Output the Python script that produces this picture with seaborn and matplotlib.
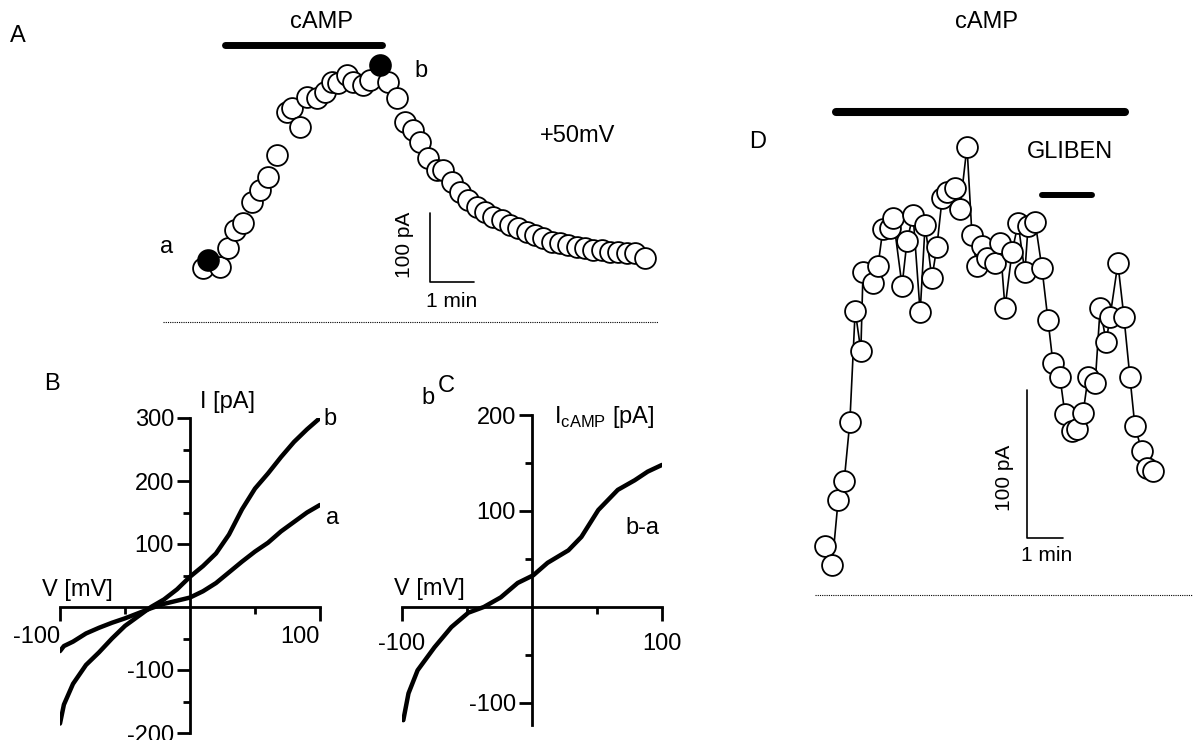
import matplotlib
matplotlib.use('Agg')
import pandas as pd
import matplotlib.pyplot as plt
import seaborn as sns

sns.set_style('ticks', {'axes.edgecolor': 'black', 'xtick.color': 'black',
                        'ytick.color': 'black', 'text.color': 'black'})
plt.rcParams['font.family'] = ['Liberation Sans', 'DejaVu Sans']
plt.rcParams['mathtext.fontset'] = 'custom'
plt.rcParams['mathtext.rm'] = 'Liberation Sans'
plt.rcParams['axes.unicode_minus'] = False

W, H = 1193, 740

# ---- A: current at +50mV over time (min, pA) ----
a_time = [0.00, 0.11, 0.39, 0.57, 0.73, 0.91, 1.11, 1.30, 1.48, 1.68, 1.91, 2.02,
          2.20, 2.36, 2.59, 2.77, 2.93, 3.07, 3.27, 3.41, 3.64, 3.80, 4.02, 4.20,
          4.41, 4.59, 4.77, 4.93, 5.11, 5.32, 5.45, 5.66, 5.84, 6.02, 6.23, 6.41,
          6.59, 6.80, 6.98, 7.16, 7.36, 7.55, 7.73, 7.93, 8.11, 8.30, 8.50, 8.68,
          8.86, 9.07, 9.25, 9.43, 9.64, 9.82, 10.05]
a_current = [78, 90, 80, 107, 133, 143, 174, 191, 210, 242, 304, 310,
             283, 326, 325, 333, 348, 346, 358, 348, 343, 351, 372, 348,
             325, 290, 278, 261, 238, 220, 220, 203, 188, 177, 167, 159,
             152, 148, 141, 136, 130, 126, 122, 116, 114, 112, 109, 107,
             104, 104, 101, 101, 100, 100, 93]
a_filled = [1, 22]   # sweeps 'a' and 'b'

# ---- B: I-V curves before (a) and during cAMP (b) ----
iv_v = [-100, -97, -90, -80, -70, -60, -50, -40, -30, -20, -10, 0,
        10, 20, 30, 40, 50, 60, 70, 80, 90, 100]
iv_a = [-70, -62, -55, -42, -33, -25, -18, -10, -2, 5, 10, 15,
        25, 38, 55, 72, 88, 102, 120, 135, 150, 162]
iv_b = [-185, -155, -122, -92, -72, -50, -30, -15, 0, 12, 28, 48,
        65, 85, 115, 155, 188, 212, 238, 262, 282, 300]

# ---- C: cAMP-induced current (b-a) ----
diff_v = [-99, -95, -88, -75, -62, -49, -37, -24, -11, 1, 12, 28, 38, 51, 66, 79, 89, 100]
diff_i = [-118, -90, -66, -42, -21, -6, 0, 10, 25, 33, 46, 59, 73, 101, 122, 132, 141, 148]

# ---- D: current over time with glibenclamide ----
d_time = [0.00, 0.20, 0.37, 0.54, 0.70, 0.85, 1.01, 1.07, 1.35, 1.49, 1.63, 1.83,
          1.92, 2.17, 2.31, 2.48, 2.68, 2.82, 3.01, 3.15, 3.30, 3.44, 3.66, 3.80,
          4.00, 4.14, 4.28, 4.42, 4.56, 4.79, 4.93, 5.07, 5.27, 5.44, 5.63, 5.72,
          5.92, 6.11, 6.28, 6.42, 6.62, 6.76, 6.96, 7.10, 7.27, 7.41, 7.61, 7.75,
          7.92, 8.03, 8.25, 8.42, 8.59, 8.73, 8.93, 9.07, 9.24]
d_current = [33, 20, 64, 77, 117, 192, 165, 218, 211, 222, 247, 248,
             255, 209, 239, 257, 191, 250, 214, 235, 268, 272, 275, 261,
             303, 243, 222, 236, 228, 224, 238, 194, 232, 251, 218, 249,
             252, 221, 186, 157, 147, 122, 111, 112, 123, 147, 143, 194,
             171, 188, 224, 188, 147, 114, 97, 86, 84]

FS = 17     # main labels
FS_SB = 15  # scale bar labels
MS = 225    # marker area (pt^2)


def px_axes(x0, y0, x1, y1):
    return fig.add_axes([x0 / W, 1 - y1 / H, (x1 - x0) / W, (y1 - y0) / H])


def ftext(px, py, s):
    fig.text(px / W, 1 - py / H, s, fontsize=FS, ha='center', va='center')


def iv_axes(ax, yticks, yminor, xpad, xha):
    ax.spines['left'].set_position(('data', 0))
    ax.spines['bottom'].set_position(('data', 0))
    ax.spines['top'].set_visible(False)
    ax.spines['right'].set_visible(False)
    ax.spines['left'].set_linewidth(2)
    ax.spines['bottom'].set_linewidth(2)
    ax.set_xticks([-100, 100])
    ax.set_xticks([-50, 50], minor=True)
    ax.set_yticks(yticks)
    ax.set_yticks(yminor, minor=True)
    ax.tick_params(axis='y', which='major', length=9.5, width=2, labelsize=FS, pad=2)
    ax.tick_params(axis='y', which='minor', length=5, width=2)
    ax.tick_params(axis='x', which='major', length=10, width=2, labelsize=FS, pad=xpad)
    ax.tick_params(axis='x', which='minor', length=5, width=2)
    for lab in ax.get_xticklabels():
        lab.set_ha(xha)
    ax.set_xlabel('')
    ax.set_ylabel('')
    ax.patch.set_alpha(0)


fig = plt.figure(figsize=(W / 100, H / 100), dpi=100)

# ---- Panel A ----
axA = px_axes(150, 0, 670, 330)
df_a = pd.DataFrame({'t': a_time, 'I': a_current})
sns.scatterplot(data=df_a.drop(index=a_filled), x='t', y='I', s=MS, color='white',
                edgecolor='black', linewidth=1.3, ax=axA, zorder=2, clip_on=False)
sns.scatterplot(data=df_a.iloc[a_filled], x='t', y='I', s=MS, color='black',
                edgecolor='black', linewidth=1.3, ax=axA, zorder=3, clip_on=False)
axA.plot([0.5, 4.07], [401, 401], color='black', lw=5, solid_capstyle='round')
axA.plot([5.16, 5.16, 6.16], [158, 58, 58], color='black', lw=1.2)
axA.plot([-0.91, 10.34], [0, 0], color='black', lw=0.8, ls=(0, (1, 1)))
axA.text(2.70, 435, 'cAMP', fontsize=FS, ha='center', va='center')
axA.text(-0.82, 109, 'a', fontsize=FS, ha='center', va='center')
axA.text(4.95, 364, 'b', fontsize=FS, ha='center', va='center')
axA.text(8.52, 270, '+50mV', fontsize=FS, ha='center', va='center')
axA.text(4.57, 112, '100 pA', fontsize=FS_SB, ha='center', va='center', rotation=90)
axA.text(5.64, 30, '1 min', fontsize=FS_SB, ha='center', va='center')
axA.set_xlim(-1.205, 10.614)
axA.set_ylim(-11.6, 466.7)
axA.axis('off')

# ---- Panel B ----
axB = px_axes(60, 418, 320, 733)
sns.lineplot(x=iv_v, y=iv_a, ax=axB, color='black', lw=3.2, estimator=None, sort=False)
sns.lineplot(x=iv_v, y=iv_b, ax=axB, color='black', lw=3.2, estimator=None, sort=False)
axB.set_xlim(-100, 100)
axB.set_ylim(-200, 300)
iv_axes(axB, [-200, -100, 100, 200, 300], [-150, -50, 50, 150, 250], 4, 'right')
axB.text(7.7, 325, 'I [pA]', fontsize=FS, ha='left', va='center')
axB.text(-113.8, 27, 'V [mV]', fontsize=FS, ha='left', va='center')
axB.text(108, 298, 'b', fontsize=FS, ha='center', va='center')
axB.text(110, 141, 'a', fontsize=FS, ha='center', va='center')

# ---- Panel C ----
axC = px_axes(402, 415, 662, 725)
sns.lineplot(x=diff_v, y=diff_i, ax=axC, color='black', lw=3.2, estimator=None, sort=False)
axC.set_xlim(-100, 100)
axC.set_ylim(-123, 200)
iv_axes(axC, [-100, 100, 200], [-50, 50, 150], 9, 'center')
axC.text(17, 198, r'I$_{\mathrm{cAMP}}$ [pA]', fontsize=FS, ha='left', va='center')
axC.text(-106, 19, 'V [mV]', fontsize=FS, ha='left', va='center')
axC.text(85, 82, 'b-a', fontsize=FS, ha='center', va='center')

# ---- Panel D ----
axD = px_axes(790, 0, 1193, 600)
df_d = pd.DataFrame({'t': d_time, 'I': d_current})
sns.lineplot(data=df_d, x='t', y='I', ax=axD, color='black', lw=1.2,
             estimator=None, sort=False, zorder=1)
sns.scatterplot(data=df_d, x='t', y='I', s=MS, color='white', edgecolor='black',
                linewidth=1.3, ax=axD, zorder=2, clip_on=False)
axD.plot([0.31, 8.45], [326, 326], color='black', lw=5.8, solid_capstyle='round')
axD.plot([6.11, 7.52], [270, 270], color='black', lw=4.3, solid_capstyle='round')
axD.plot([5.69, 5.69, 6.69], [138.5, 38.5, 38.5], color='black', lw=1.2)
axD.plot([-0.28, 10.37], [0, 0], color='black', lw=0.8, ls=(0, (1, 1)))
axD.text(4.56, 387, 'cAMP', fontsize=FS, ha='center', va='center')
axD.text(6.9, 299, 'GLIBEN', fontsize=FS, ha='center', va='center')
axD.text(5.07, 79, '100 pA', fontsize=FS_SB, ha='center', va='center', rotation=90)
axD.text(6.25, 27, '1 min', fontsize=FS_SB, ha='center', va='center')
axD.set_xlim(-0.986, 10.366)
axD.set_ylim(-3.38, 402.0)
axD.axis('off')

# ---- panel letters ----
for px, py, s in [(18, 36, 'A'), (52, 384, 'B'), (446, 386, 'C'), (758, 142, 'D'),
                  (428, 398, 'b')]:
    ftext(px, py, s)

fig.savefig('out.png', dpi=100)
